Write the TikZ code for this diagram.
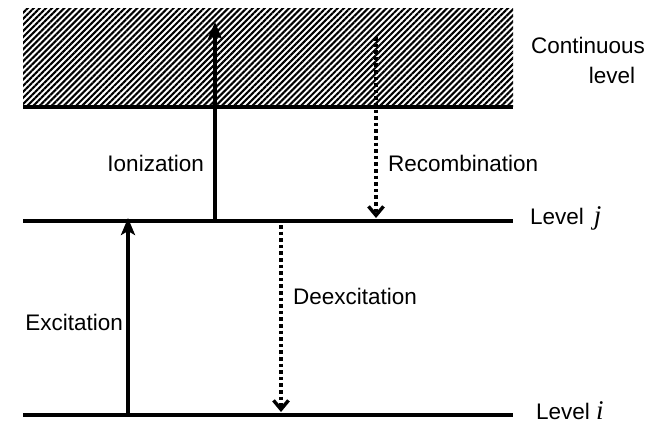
\documentclass[tikz,border=0pt]{standalone}
\usepackage{fontspec}
\setmainfont{Liberation Sans}
\newfontfamily\serifj{Liberation Serif}
\usetikzlibrary{arrows.meta,patterns.meta}

\begin{document}
\begin{tikzpicture}[x=1pt,y=-1pt,
	level/.style = {line width=4.6pt},
	up/.style = {line width=3.4pt, -{Stealth[length=17pt,width=14pt,inset=4pt]}},
	down/.style = {line width=3.6pt, dash pattern=on 3.6pt off 3pt, -{Straight Barb[length=9pt,width=15pt,line width=3.4pt]}},
	lbl/.style = {font=\fontsize{22.5}{26}\selectfont, inner sep=0pt}]
	\useasboundingbox (0,0) rectangle (653,425);

	% continuum
	\fill[pattern={Lines[angle=45,distance=4.3pt,line width=2.1pt]}] (23,9) rectangle (513,107);
	\coordinate (cl) at (23,107);
	\coordinate (cr) at (513,107);
	\coordinate (jl) at (23,221);
	\coordinate (jr) at (513,221);
	\coordinate (il) at (23,415);
	\coordinate (ir) at (513,415);

	\draw[level] (cl) -- (cr);
	\draw[level] (jl) -- (jr);
	\draw[level] (il) -- (ir);

	% transitions
	\coordinate (ion0) at (215,221);
	\coordinate (ion1) at (215,22);
	\coordinate (rec0) at (376,37);
	\coordinate (rec1) at (376,218);
	\coordinate (exc0) at (128,415);
	\coordinate (exc1) at (128,218);
	\coordinate (dex0) at (281,225);
	\coordinate (dex1) at (281,412);

	\draw[up] (ion0) -- (ion1);
	\draw[up] (exc0) -- (exc1);
	\draw[down] (rec0) -- (rec1);
	\draw[down] (dex0) -- (dex1);

	% labels
	\node[lbl] (cont) at (588,45) {Continuous};
	\node[lbl] (contlvl) at (612,75) {level};
	\node[lbl, anchor=east] (ion) at (204,163) {Ionization};
	\node[lbl, anchor=west] (rec) at (388,163) {Recombination};
	\node[lbl, anchor=west] (dex) at (293,296) {Deexcitation};
	\node[lbl, anchor=east] (exc) at (123,322) {Excitation};
	\node[lbl, anchor=west] (lj) at (530,218) {Level\, {\serifj\itshape\fontsize{27}{28}\selectfont j}};
	\node[lbl, anchor=west] (li) at (536,411) {Level {\serifj\itshape\fontsize{27}{28}\selectfont i}};
\end{tikzpicture}
\end{document}
